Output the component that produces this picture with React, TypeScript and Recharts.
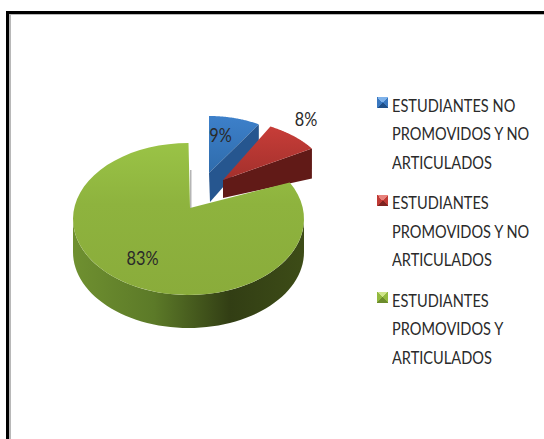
import React from "react";
import { PieChart, Pie, Cell, Legend } from "recharts";

const categories = [
  "ESTUDIANTES NO PROMOVIDOS Y NO ARTICULADOS",
  "ESTUDIANTES PROMOVIDOS Y NO ARTICULADOS",
  "ESTUDIANTES PROMOVIDOS Y ARTICULADOS",
];
const legendLines = [
  ["ESTUDIANTES NO", "PROMOVIDOS Y NO", "ARTICULADOS"],
  ["ESTUDIANTES", "PROMOVIDOS Y NO", "ARTICULADOS"],
  ["ESTUDIANTES", "PROMOVIDOS Y", "ARTICULADOS"],
];
const values = [9, 8, 83];
const labels = ["9%", "8%", "83%"];
const data = categories.map((name, i) => ({ name, value: values[i], label: labels[i] }));

const FONT = "Lato, sans-serif";
const TEXT = "#2a2a2a";

// per-slice projection of the library's angles on the tilted, exploded pie
const geo = [
  { cx: 209, cy: 170, rx: 93, ry: 54, ax: 209, ay: 173, depth: 29 },
  { cx: 205, cy: 178, rx: 122, ry: 61, ax: 223, ay: 180, depth: 29 },
  { cx: 188.5, cy: 219, rx: 115.5, ry: 76, ax: 190, ay: 208, depth: 33 },
];
const labelPos = [
  { x: 220.5, y: 135 },
  { x: 306, y: 119 },
  { x: 142.5, y: 258 },
];

const pt = (g: any, deg: number) => {
  const t = (deg * Math.PI) / 180;
  return [g.cx + g.rx * Math.sin(t), g.cy - g.ry * Math.cos(t)];
};
const arc = (g: any, a: number, b: number, dy = 0) => {
  const n = 60;
  let s = "";
  for (let i = 0; i <= n; i++) {
    const p = pt(g, a + ((b - a) * i) / n);
    s += ` L${p[0].toFixed(2)} ${(p[1] + dy).toFixed(2)}`;
  }
  return s;
};

const Slice = (props: any) => {
  const { startAngle, endAngle, index } = props;
  const g = geo[index];
  // recharts angles run anticlockwise from 3 o'clock; convert to clockwise from 12
  const a = 90 - startAngle;
  const b = 90 - endAngle;
  const top = `M${g.ax} ${g.ay}${arc(g, a, b)} Z`;
  const pb = pt(g, b);
  if (index === 2) {
    const wall = `M${pt(g, 90)[0]} ${pt(g, 90)[1]}${arc(g, 90, 270)} L${pt(g, 270)[0]} ${pt(g, 270)[1] + g.depth}${arc(g, 270, 90, g.depth)} Z`;
    return (
      <g>
        <path d={wall} fill="url(#gWall)" />
        <path d={`M${g.ax} ${g.ay} L${g.ax} ${pb[1] + 27} L${g.ax + 1.5} ${pb[1] + 27} L${g.ax + 1.5} ${g.ay} Z`} fill="#b5b5b5" />
        <path d={top} fill="url(#gTop)" />
      </g>
    );
  }
  if (index === 0) {
    const wall = `M${pb[0]} ${pb[1]} L${pb[0]} ${pb[1] + 22} L${g.ax + 1} ${g.ay + g.depth} L${g.ax} ${g.ay} Z`;
    return (
      <g>
        <path d={top} fill="url(#bTop)" />
        <path d={wall} fill="#26568f" />
      </g>
    );
  }
  const wall = `M${g.ax} ${g.ay} L${pb[0]} ${pb[1]} L${pb[0]} ${pb[1] + 30} L${g.ax} ${g.ay + 18} Z`;
  return (
    <g>
      <path d={wall} fill="#611a17" />
      <path d={top} fill="url(#rTop)" />
    </g>
  );
};

const renderLabel = (props: any) => {
  const { index } = props;
  const p = labelPos[index];
  return (
    <text
      key={index}
      transform={`translate(${p.x} ${p.y}) scale(0.86 1)`}
      textAnchor="middle"
      dominantBaseline="central"
      fontFamily={FONT}
      fontSize={19}
      fill={TEXT}
    >
      {labels[index]}
    </text>
  );
};

const fills = ["url(#bTop)", "url(#rTop)", "url(#gTop)"];
// marker facets: top, sides, bottom
const markerFacets = [
  ["#7fb2ea", "#3a78c0", "#1f4f88"],
  ["#e8827c", "#bf3a35", "#7e2320"],
  ["#cfe58a", "#93b93f", "#6c8c2c"],
];

const LegendBox = () => (
  <div style={{ position: "absolute", left: 377, top: 90.5, width: 167, fontFamily: FONT, fontSize: 18, color: TEXT }}>
    {legendLines.map((lines, i) => (
      <div key={i} style={{ position: "relative", height: 97.5 }}>
        <div
          style={{
            position: "absolute",
            left: 0,
            top: 6.5,
            width: 11,
            height: 11,
            background: `conic-gradient(from -45deg, ${markerFacets[i][0]} 0 25%, ${markerFacets[i][1]} 25% 50%, ${markerFacets[i][2]} 50% 75%, ${markerFacets[i][1]} 75%)`,
          }}
        />
        {lines.map((l, k) => (
          <div
            key={k}
            style={{
              position: "absolute",
              left: 15,
              top: k * 28.5,
              lineHeight: "28.5px",
              whiteSpace: "nowrap",
              transform: "scaleX(0.81)",
              transformOrigin: "left center",
            }}
          >
            {l}
          </div>
        ))}
      </div>
    ))}
  </div>
);

export default function App() {
  return (
    <div style={{ position: "absolute", left: 0, top: 0, width: 544, height: 439, overflow: "hidden", background: "#fff" }}>
      <div style={{ position: "absolute", left: 6, top: 11, width: 538, height: 3, background: "#000" }} />
      <div style={{ position: "absolute", left: 9, top: 14, width: 535, height: 1, background: "#b8b8b8" }} />
      <div style={{ position: "absolute", left: 6, top: 11, width: 3, height: 428, background: "#000" }} />
      <div style={{ position: "absolute", left: 9, top: 14, width: 2, height: 425, background: "#b8b8b8" }} />
      <PieChart width={544} height={439} style={{ position: "absolute", left: 0, top: 0 }}>
        <defs>
          <linearGradient id="gTop" x1="0" y1="0" x2="0" y2="1">
            <stop offset="0" stopColor="#9ac346" />
            <stop offset="0.4" stopColor="#8eb33e" />
            <stop offset="1" stopColor="#8aac3b" />
          </linearGradient>
          <linearGradient id="gWall" x1="0" y1="0" x2="1" y2="0">
            <stop offset="0" stopColor="#6f9030" />
            <stop offset="0.35" stopColor="#5c7a28" />
            <stop offset="0.68" stopColor="#323e14" />
            <stop offset="1" stopColor="#3d4c17" />
          </linearGradient>
          <linearGradient id="bTop" x1="0" y1="0" x2="0" y2="1">
            <stop offset="0" stopColor="#3d80ca" />
            <stop offset="1" stopColor="#2f6cac" />
          </linearGradient>
          <linearGradient id="rTop" x1="0" y1="0" x2="0" y2="1">
            <stop offset="0" stopColor="#c73d38" />
            <stop offset="1" stopColor="#a3302c" />
          </linearGradient>
        </defs>
        <Pie
          data={data}
          dataKey="value"
          nameKey="name"
          cx={190}
          cy={208}
          outerRadius={115}
          startAngle={90}
          endAngle={-270}
          paddingAngle={0}
          stroke="none"
          isAnimationActive={false}
          shape={Slice}
          label={renderLabel}
          labelLine={false}
        >
          {data.map((d, i) => (
            <Cell key={d.name} fill={fills[i]} />
          ))}
        </Pie>
        <Legend content={() => null} />
      </PieChart>
      <LegendBox />
    </div>
  );
}
